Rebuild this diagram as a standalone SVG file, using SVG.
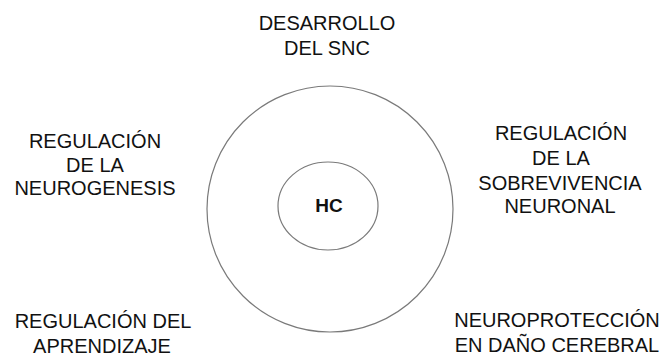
<svg xmlns="http://www.w3.org/2000/svg" width="668" height="358" viewBox="0 0 668 358">
  <style>
    .lbl { font-family: "Liberation Sans", Arial, sans-serif; font-size: 20px; fill: #111; text-anchor: middle; }
    .ring { fill: none; stroke: #7a7a7a; stroke-width: 1.2; }
    .core { font-family: "Liberation Sans", Arial, sans-serif; font-size: 19px; font-weight: bold; fill: #111; text-anchor: middle; }
  </style>
  <rect width="668" height="358" fill="#fff"/>
  <g id="outer-ring">
    <circle class="ring" cx="330" cy="209" r="123"/>
  </g>
  <g id="hc">
    <ellipse class="ring" cx="328" cy="206" rx="50" ry="44"/>
    <text class="core" x="329" y="212">HC</text>
  </g>
  <g id="desarrollo">
    <text class="lbl" x="327" y="30">DESARROLLO</text>
    <text class="lbl" x="327" y="55">DEL SNC</text>
  </g>
  <g id="neurogenesis">
    <text class="lbl" x="95" y="148">REGULACIÓN</text>
    <text class="lbl" x="95" y="172">DE LA</text>
    <text class="lbl" x="95" y="195">NEUROGENESIS</text>
  </g>
  <g id="sobrevivencia">
    <text class="lbl" x="561" y="140">REGULACIÓN</text>
    <text class="lbl" x="561" y="165">DE LA</text>
    <text class="lbl" x="560" y="190">SOBREVIVENCIA</text>
    <text class="lbl" x="560" y="213">NEURONAL</text>
  </g>
  <g id="aprendizaje">
    <text class="lbl" x="103" y="328">REGULACIÓN DEL</text>
    <text class="lbl" x="102" y="353">APRENDIZAJE</text>
  </g>
  <g id="neuroproteccion">
    <text class="lbl" x="557" y="327">NEUROPROTECCIÓN</text>
    <text class="lbl" x="557" y="352">EN DAÑO CEREBRAL</text>
  </g>
</svg>
